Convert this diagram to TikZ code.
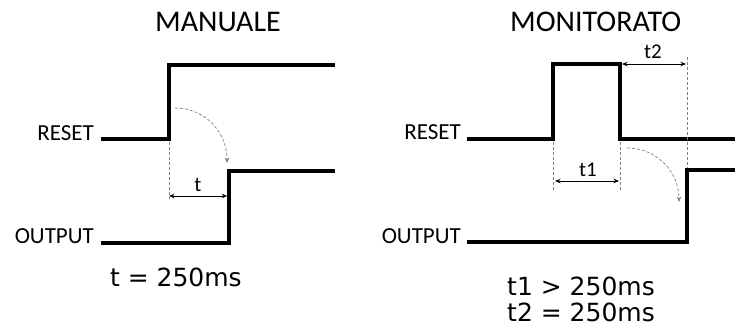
\documentclass[tikz,border=0pt]{standalone}
\usepackage{fontspec}
\setmainfont{Carlito}
\newfontfamily\eqfont{DejaVu Sans}
\usetikzlibrary{arrows.meta}
\begin{document}
\begin{tikzpicture}[x=1pt,y=-1pt,
  sig/.style={line width=3.5pt, line join=miter},
  guide/.style={black!50, line width=0.7pt, dash pattern=on 3pt off 2pt},
  dim/.style={line width=0.9pt, {Stealth[length=5.5pt,width=4.5pt]}-{Stealth[length=5.5pt,width=4.5pt]}},
  curv/.style={guide, -{Stealth[length=5.5pt,width=4.5pt]}},
  title/.style={font=\fontsize{30}{32}\selectfont, inner sep=0pt, anchor=base west},
  lab/.style={font=\fontsize{23}{25}\selectfont, inner sep=0pt, anchor=base east},
  eq/.style={font=\eqfont\fontsize{25}{28}\selectfont, inner sep=0pt},
  dl/.style={font=\fontsize{21}{22}\selectfont, inner sep=0pt}]
\useasboundingbox (0,0) rectangle (735,327);

% ---------- MANUALE ----------
\node[title] (tM) at (155,31) {MANUALE};
\node[lab] (lR1) at (94,140) {RESET};
\node[lab] (lO1) at (94,243) {OUTPUT};

\coordinate (a0) at (101,139);
\coordinate (a1) at (169,139);
\coordinate (a2) at (169,65);
\coordinate (a3) at (335,65);
\draw[sig] (a0) -- (a1) -- (a2) -- (a3);

\coordinate (b0) at (101,243);
\coordinate (b1) at (229,243);
\coordinate (b2) at (229,171);
\coordinate (b3) at (335,171);
\draw[sig] (b0) -- (b1) -- (b2) -- (b3);

\coordinate (g1a) at (169,142);
\coordinate (g1b) at (169,199);
\draw[guide] (g1a) -- (g1b);

\coordinate (d1a) at (169,196);
\coordinate (d1b) at (227.3,196);
\draw[dim] (d1a) -- (d1b);
\node[dl] (lt) at (198,185) {t};

\coordinate (c1a) at (175,108);
\coordinate (c1b) at (227,163);
\draw[curv] (c1a) .. controls (205,108) and (227,132) .. (c1b);

\node[eq, anchor=base east] (e1) at (242,286) {t = 250ms};

% ---------- MONITORATO ----------
\node[title] (tN) at (510,31) {MONITORATO};
\node[lab] (lR2) at (461,139) {RESET};
\node[lab] (lO2) at (461,243) {OUTPUT};

\coordinate (p0) at (467,139);
\coordinate (p1) at (553,139);
\coordinate (p2) at (553,64);
\coordinate (p3) at (620,64);
\coordinate (p4) at (620,139);
\coordinate (p5) at (740,139);
\draw[sig] (p0) -- (p1) -- (p2) -- (p3) -- (p4) -- (p5);

\coordinate (q0) at (467,242);
\coordinate (q1) at (687,242);
\coordinate (q2) at (687,170);
\coordinate (q3) at (740,170);
\draw[sig] (q0) -- (q1) -- (q2) -- (q3);

\coordinate (h1a) at (553,142);
\coordinate (h1b) at (553,190);
\coordinate (h2a) at (620,142);
\coordinate (h2b) at (620,190);
\coordinate (h3a) at (687,57);
\coordinate (h3b) at (687,168);
\draw[guide] (h1a) -- (h1b);
\draw[guide] (h2a) -- (h2b);
\draw[guide] (h3a) -- (h3b);

\coordinate (e1a) at (555,181);
\coordinate (e1b) at (619,181);
\draw[dim] (e1a) -- (e1b);
\node[dl] (lt1) at (588,170) {t1};

\coordinate (e2a) at (622,64);
\coordinate (e2b) at (686,64);
\draw[dim] (e2a) -- (e2b);
\node[dl] (lt2) at (653,52) {t2};

\coordinate (c2a) at (627,148);
\coordinate (c2b) at (679,202);
\draw[curv] (c2a) .. controls (657,148) and (679,172) .. (c2b);

\node[eq, anchor=base west] (e2) at (507,295) {t1 > 250ms};
\node[eq, anchor=base west] (e3) at (507,321) {t2 = 250ms};
\end{tikzpicture}
\end{document}
